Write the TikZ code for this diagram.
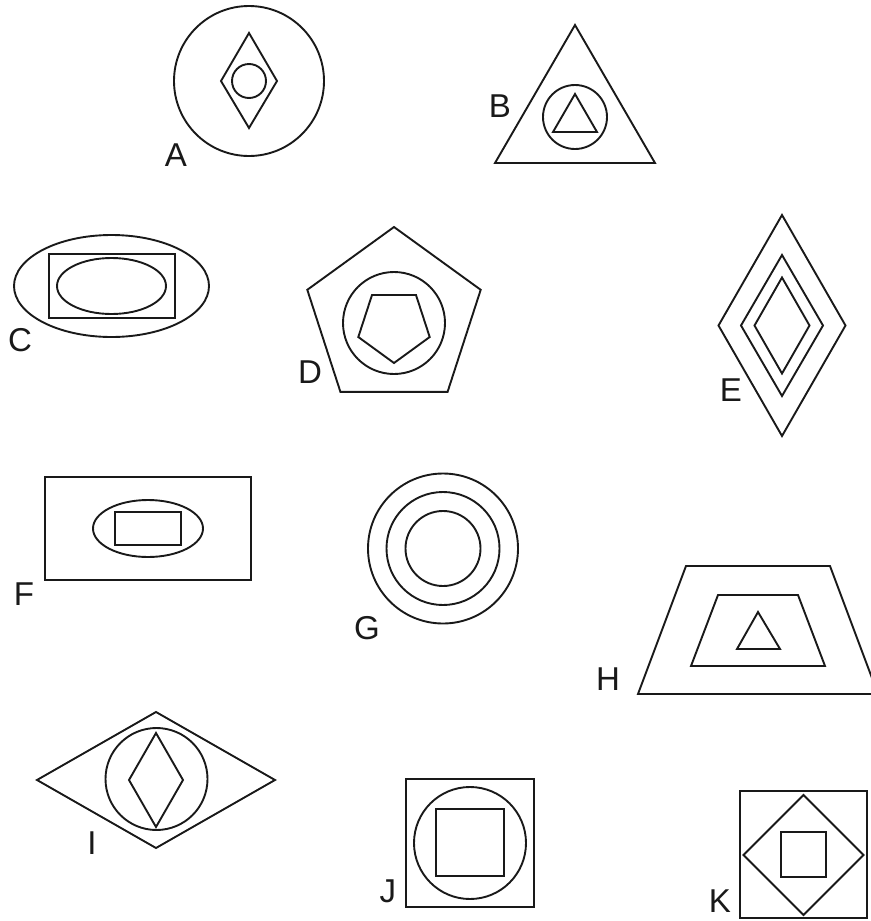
\documentclass[tikz,border=0pt]{standalone}
\usepackage{fontspec}
\setmainfont{Liberation Sans}
\begin{document}
\begin{tikzpicture}[
        x=0.025cm, y=-0.025cm,
        fig/.style={
            line width=1.35pt,
            draw=black!90,
            line join=miter
        },
        letter/.style={
            font=\fontsize{23.5}{28}\selectfont,
            inner sep=0pt,
            text=black!90
        }
    ]
    \useasboundingbox (0,0) rectangle (870,921);

    % Figura A
    \draw[fig] (249,81) circle (75);
    \draw[fig] (249,33) -- (277,81) -- (249,128) -- (221,81) -- cycle;
    \draw[fig] (249,81) circle (17);
    \node[letter] (labA) at (176,155) {A};

    % Figura B
    \draw[fig] (575,25) -- (655,163) -- (495,163) -- cycle;
    \draw[fig] (575,117) circle (32);
    \draw[fig] (575,94) -- (597,132) -- (553,132) -- cycle;
    \node[letter] (labB) at (500,106) {B};

    % Figura C
    \draw[fig] (111.5,286) ellipse (97.5 and 51);
    \draw[fig] (49,254) rectangle (175,318);
    \draw[fig] (111.5,286) ellipse (54.5 and 28);
    \node[letter] (labC) at (20,340) {C};

    % Figura D
    \draw[fig] (394,227) -- (480.7,289.8) -- (447.6,391.8) -- (340.4,391.8) -- (307.3,289.8) -- cycle;
    \draw[fig] (394,323) circle (51);
    \draw[fig] (394,363) -- (429.7,337) -- (416,295) -- (372,295) -- (358.3,337) -- cycle;
    \node[letter] (labD) at (310,372) {D};

    % Figura E
    \foreach \w/\h in {63.5/110.5, 41/70.5, 27.5/48}
        \draw[fig] (782,{325.5-\h}) -- ({782+\w},325.5) -- (782,{325.5+\h}) -- ({782-\w},325.5) -- cycle;
    \node[letter] (labE) at (731,390) {E};

    % Figura F
    \draw[fig] (45,477) rectangle (251,580);
    \draw[fig] (148,528.5) ellipse (55 and 28.5);
    \draw[fig] (115,512) rectangle (181,545);
    \node[letter] (labF) at (24,594) {F};

    % Figura G
    \foreach \r in {75, 56.5, 37.5}
        \draw[fig] (443,548.5) circle (\r);
    \node[letter] (labG) at (367,628) {G};

    % Figura H
    \draw[fig] (686,566) -- (830,566) -- (878,694) -- (638,694) -- cycle;
    \draw[fig] (718,595) -- (798,595) -- (825,666) -- (691,666) -- cycle;
    \draw[fig] (758,612) -- (780,649) -- (737,649) -- cycle;
    \node[letter] (labH) at (608,679) {H};

    % Figura I
    \draw[fig] (156,712) -- (275,780) -- (156,848) -- (37,780) -- cycle;
    \draw[fig] (156.5,779) circle (51);
    \draw[fig] (156,733) -- (183,780) -- (156,827) -- (129,780) -- cycle;
    \node[letter] (labI) at (92,843) {I};

    % Figura J
    \draw[fig] (406,779) rectangle (534,907);
    \draw[fig] (470,843) circle (56);
    \draw[fig] (436,809) rectangle (504,876);
    \node[letter] (labJ) at (388,891) {J};

    % Figura K
    \draw[fig] (740,791) rectangle (867,918);
    \draw[fig] (803.5,795) -- (863.5,855) -- (803.5,915) -- (743.5,855) -- cycle;
    \draw[fig] (781,832) rectangle (826,877);
    \node[letter] (labK) at (720,901) {K};
\end{tikzpicture}
\end{document}
